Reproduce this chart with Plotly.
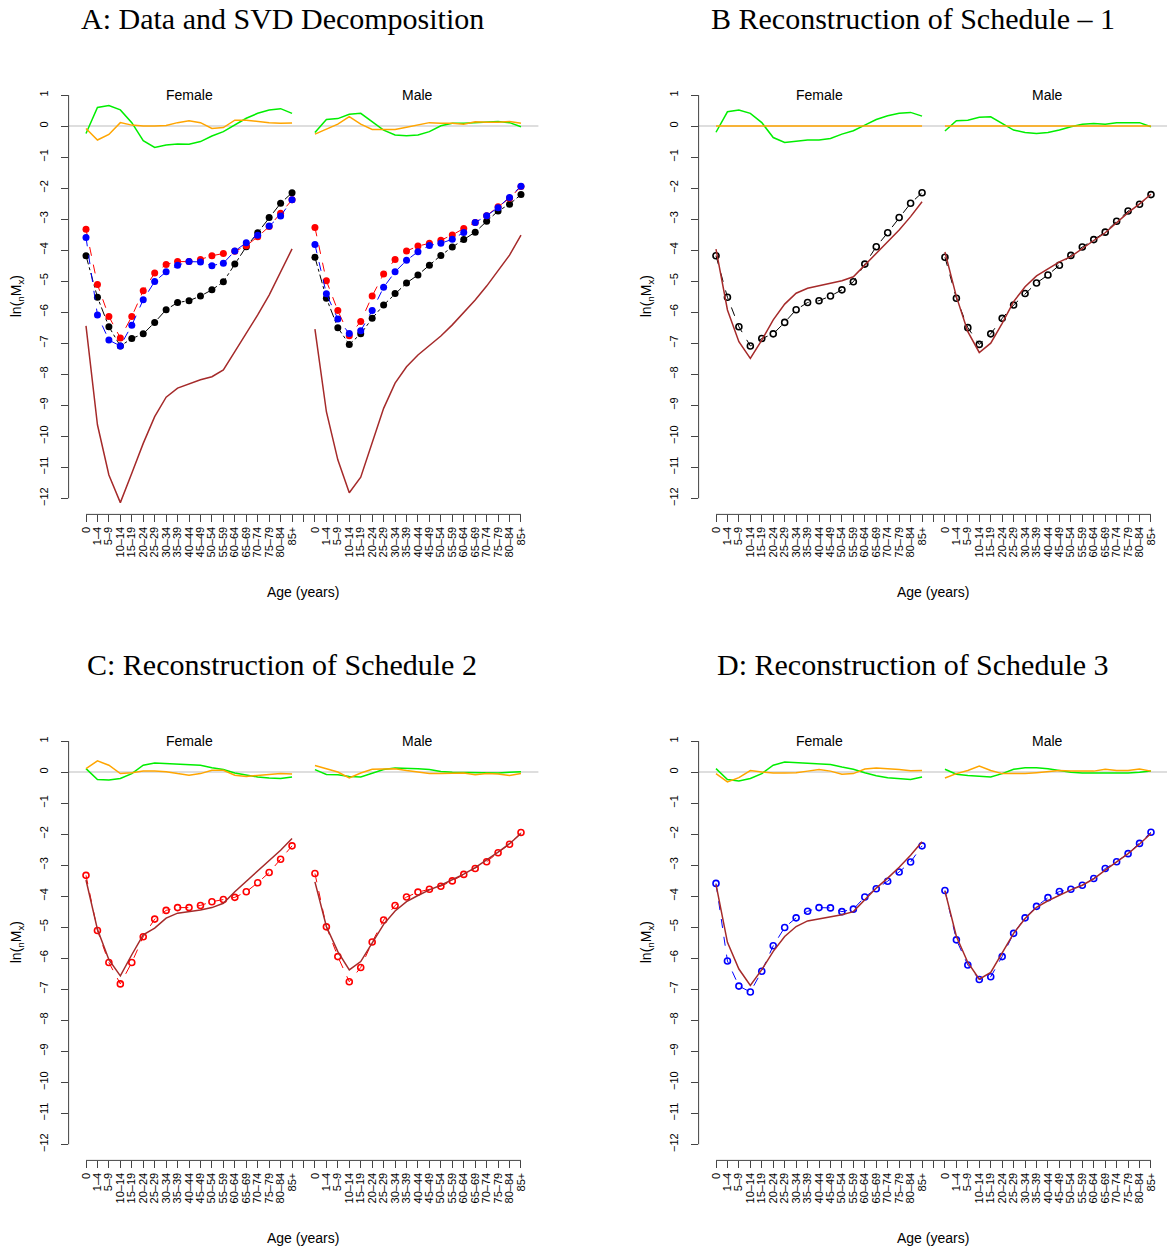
import plotly.graph_objects as go

# ---------------- data ----------------
age_labels = ["0", "1–4", "5–9", "10–14", "15–19", "20–24", "25–29", "30–34", "35–39",
              "40–44", "45–49", "50–54", "55–59", "60–64", "65–69", "70–74", "75–79",
              "80–84", "85+"]

# observed schedules (ln nMx)
sched1_f = [-4.18, -5.52, -6.47, -7.09, -6.85, -6.70, -6.33, -5.92, -5.69, -5.63, -5.48,
            -5.28, -5.02, -4.45, -3.89, -3.44, -2.95, -2.49, -2.15]
sched1_m = [-4.23, -5.55, -6.50, -7.04, -6.70, -6.20, -5.77, -5.40, -5.06, -4.80, -4.49,
            -4.17, -3.90, -3.66, -3.42, -3.07, -2.74, -2.52, -2.21]
sched2_f = [-3.33, -5.11, -6.14, -6.83, -6.14, -5.31, -4.74, -4.46, -4.37, -4.37, -4.30,
            -4.18, -4.11, -4.04, -3.86, -3.57, -3.24, -2.81, -2.38]
sched2_m = [-3.27, -4.99, -5.95, -6.76, -6.30, -5.48, -4.77, -4.30, -4.03, -3.87, -3.78,
            -3.68, -3.51, -3.30, -3.11, -2.89, -2.60, -2.33, -1.95]
sched3_f = [-3.59, -6.09, -6.90, -7.09, -6.42, -5.60, -5.01, -4.70, -4.49, -4.37, -4.38,
            -4.50, -4.42, -4.03, -3.76, -3.52, -3.22, -2.90, -2.38]
sched3_m = [-3.82, -5.41, -6.22, -6.69, -6.60, -5.95, -5.20, -4.70, -4.33, -4.05, -3.85,
            -3.78, -3.65, -3.43, -3.11, -2.89, -2.63, -2.30, -1.94]

# SVD components (panel A)
svd1_f = [-6.44, -9.63, -11.25, -12.14, -11.19, -10.23, -9.37, -8.74, -8.45, -8.32, -8.18,
          -8.08, -7.86, -7.27, -6.68, -6.09, -5.45, -4.73, -3.96]
svd1_m = [-6.55, -9.21, -10.76, -11.82, -11.32, -10.23, -9.10, -8.29, -7.76, -7.38, -7.06,
          -6.77, -6.41, -6.01, -5.61, -5.16, -4.64, -4.16, -3.52]
svd2_f = [-0.24, 0.60, 0.66, 0.52, 0.11, -0.47, -0.69, -0.61, -0.58, -0.59, -0.50,
          -0.32, -0.18, 0.03, 0.25, 0.41, 0.52, 0.56, 0.41]
svd2_m = [-0.21, 0.21, 0.24, 0.38, 0.41, 0.14, -0.13, -0.29, -0.31, -0.29, -0.18,
          0.01, 0.09, 0.09, 0.11, 0.14, 0.15, 0.11, -0.02]
svd3_f = [-0.08, -0.45, -0.27, 0.11, 0.03, 0.00, 0.00, 0.02, 0.11, 0.17, 0.11,
          -0.08, -0.05, 0.19, 0.19, 0.14, 0.11, 0.09, 0.10]
svd3_m = [-0.26, -0.11, 0.06, 0.30, 0.06, -0.11, -0.11, -0.11, -0.04, 0.03, 0.11,
          0.09, 0.09, 0.06, 0.14, 0.12, 0.12, 0.15, 0.09]

# reconstruction of schedule 1 (panel B)
recon1_f = [-3.97, -5.93, -6.95, -7.49, -6.90, -6.25, -5.74, -5.39, -5.23, -5.15, -5.07,
            -4.99, -4.86, -4.48, -4.08, -3.73, -3.35, -2.92, -2.44]
recon1_m = [-4.06, -5.50, -6.63, -7.30, -7.00, -6.36, -5.66, -5.18, -4.83, -4.60, -4.38,
            -4.21, -3.94, -3.69, -3.44, -3.11, -2.79, -2.51, -2.20]
r1_comp2_f = [-0.20, 0.46, 0.52, 0.41, 0.11, -0.37, -0.53, -0.48, -0.45, -0.45, -0.40,
              -0.26, -0.15, 0.03, 0.21, 0.33, 0.41, 0.44, 0.32]
r1_comp2_m = [-0.16, 0.17, 0.19, 0.28, 0.30, 0.09, -0.13, -0.21, -0.24, -0.21, -0.13,
              -0.02, 0.06, 0.08, 0.06, 0.11, 0.12, 0.11, -0.02]
r1_comp3_f = [0.0] * 19
r1_comp3_m = [0.0] * 19

# reconstruction of schedule 2 (panel C)
recon2_f = [-3.48, -5.07, -6.05, -6.57, -5.89, -5.25, -5.03, -4.71, -4.55, -4.50, -4.45,
            -4.37, -4.23, -3.86, -3.53, -3.21, -2.86, -2.52, -2.14]
recon2_m = [-3.54, -4.98, -5.79, -6.38, -6.11, -5.50, -4.91, -4.48, -4.18, -3.98, -3.80,
            -3.65, -3.48, -3.29, -3.08, -2.84, -2.58, -2.31, -1.98]
r2_comp2_f = [0.11, -0.24, -0.26, -0.21, -0.05, 0.22, 0.29, 0.27, 0.25, 0.25, 0.22,
              0.14, 0.08, -0.03, -0.10, -0.16, -0.19, -0.21, -0.16]
r2_comp2_m = [0.08, -0.08, -0.09, -0.14, -0.16, -0.05, 0.08, 0.13, 0.13, 0.11, 0.08,
              0.02, -0.01, -0.02, -0.03, -0.03, -0.03, -0.01, 0.01]
r2_comp3_f = [0.11, 0.36, 0.22, -0.05, -0.02, 0.03, 0.03, 0.01, -0.05, -0.10, -0.05,
              0.06, 0.06, -0.10, -0.14, -0.12, -0.08, -0.05, -0.06]
r2_comp3_m = [0.21, 0.11, 0.00, -0.19, -0.03, 0.09, 0.10, 0.11, 0.05, 0.00, -0.05,
              -0.05, -0.03, -0.03, -0.09, -0.05, -0.06, -0.11, -0.05]

# reconstruction of schedule 3 (panel D)
recon3_f = [-3.62, -5.49, -6.35, -6.88, -6.37, -5.78, -5.30, -4.98, -4.80, -4.73, -4.68,
            -4.60, -4.50, -4.12, -3.74, -3.42, -3.07, -2.68, -2.25]
recon3_m = [-3.83, -5.30, -6.14, -6.68, -6.46, -5.84, -5.20, -4.72, -4.36, -4.15, -3.97,
            -3.80, -3.65, -3.44, -3.16, -2.90, -2.63, -2.32, -1.98]
r3_comp2_f = [0.11, -0.24, -0.29, -0.21, -0.05, 0.22, 0.32, 0.30, 0.28, 0.28, 0.24,
              0.16, 0.09, -0.02, -0.12, -0.18, -0.21, -0.24, -0.16]
r3_comp2_m = [0.09, -0.07, -0.11, -0.14, -0.16, -0.05, 0.09, 0.14, 0.14, 0.11, 0.05,
              -0.01, -0.03, -0.03, -0.04, -0.04, -0.03, -0.01, 0.03]
r3_comp3_f = [-0.05, -0.32, -0.18, 0.05, 0.00, -0.03, -0.03, -0.02, 0.03, 0.08, 0.03,
              -0.07, -0.05, 0.10, 0.13, 0.11, 0.08, 0.04, 0.05]
r3_comp3_m = [-0.19, -0.05, 0.05, 0.19, 0.05, -0.05, -0.05, -0.05, -0.02, 0.01, 0.05,
              0.03, 0.03, 0.03, 0.09, 0.05, 0.05, 0.10, 0.03]

panel_titles = ["A: Data and SVD Decomposition", "B Reconstruction of Schedule – 1",
                "C: Reconstruction of Schedule 2", "D: Reconstruction of Schedule 3"]
y_ticks = list(range(-12, 2))

# ---------------- layout geometry ----------------
W, H = 1167, 1251
PX_PER_UNIT = 11.447
col_px = [(68.6, 538.4), (698.6, 1167.0)]
row_px = [(78.9, 514.4), (724.9, 1160.4)]
title_cx = [282, 913]
title_cy = [19, 664]
agelab_y = [592, 1238]

x_f = list(range(19))
x_m = [i + 20 for i in range(19)]
tickvals = list(range(39))
ticktext = age_labels + [" "] + age_labels

BROWN, GREEN, ORANGE = "#A52A2A", "#00EE00", "#FFA500"
AXC = "#444444"
SANS = "Liberation Sans, Arial, Helvetica, sans-serif"
SERIF = "Liberation Serif, Times New Roman, serif"

fig = go.Figure()

def add_line(ax, x, y, color, width=1.5, dash="solid"):
    fig.add_trace(go.Scatter(x=x, y=y, mode="lines", xaxis="x" + ax, yaxis="y" + ax,
                             line=dict(color=color, width=width, dash=dash),
                             hoverinfo="skip"))

def add_pts(ax, x, y, color, dash, filled):
    if filled:
        marker = dict(symbol="circle", size=7, color=color)
    else:
        marker = dict(symbol="circle-open", size=6, color=color, line=dict(width=1.6, color=color))
    fig.add_trace(go.Scatter(x=x, y=y, mode="lines+markers", xaxis="x" + ax, yaxis="y" + ax,
                             line=dict(color=color, width=1, dash=dash), marker=marker,
                             hoverinfo="skip"))

panels = [(0, 0), (0, 1), (1, 0), (1, 1)]

layout = dict(width=W, height=H, margin=dict(l=0, r=0, t=0, b=0),
              paper_bgcolor="white", plot_bgcolor="white", showlegend=False,
              font=dict(family=SANS, color="black"))
shapes = []
annotations = []

for k, (r, c) in enumerate(panels):
    n = "" if k == 0 else str(k + 1)
    x0p, x1p = col_px[c]
    y0p, y1p = row_px[r]
    xr0 = -1.52
    xr1 = xr0 + (x1p - x0p) / PX_PER_UNIT
    layout["xaxis" + n] = dict(domain=[x0p / W, x1p / W], range=[xr0, xr1],
                               anchor="y" + n, showgrid=False, zeroline=False, showline=False,
                               tickmode="array", tickvals=tickvals, ticktext=ticktext,
                               ticks="outside", ticklen=7, tickwidth=1, tickcolor=AXC,
                               tickangle=-90, tickfont=dict(size=11, family=SANS, color="black"),
                               fixedrange=True)
    layout["yaxis" + n] = dict(domain=[1 - y1p / H, 1 - y0p / H], range=[-12.52, 1.52],
                               anchor="x" + n, showgrid=False, zeroline=False, showline=False,
                               tickmode="array", tickvals=y_ticks,
                               ticks="outside", ticklen=7, tickwidth=1, tickcolor=AXC,
                               tickangle=-90, tickfont=dict(size=11, family=SANS, color="black"),
                               ticklabelstandoff=8, fixedrange=True)
    xref = "x" + n
    yref = "y" + n
    # zero reference line
    shapes.append(dict(type="line", xref=xref + " domain", yref=yref, x0=0, x1=1, y0=0, y1=0,
                       line=dict(color="#D3D3D3", width=1.5), layer="below"))
    # R-style axis lines covering the tick range only
    shapes.append(dict(type="line", xref=xref + " domain", yref=yref, x0=0, x1=0, y0=-12, y1=1,
                       line=dict(color=AXC, width=1)))
    shapes.append(dict(type="line", xref=xref, yref=yref + " domain", x0=0, x1=38, y0=0, y1=0,
                       line=dict(color=AXC, width=1)))
    # sex labels
    annotations.append(dict(x=9, y=1, xref=xref, yref=yref, text="Female", showarrow=False,
                            font=dict(size=14, family=SANS, color="black"), yanchor="middle"))
    annotations.append(dict(x=29, y=1, xref=xref, yref=yref, text="Male", showarrow=False,
                            font=dict(size=14, family=SANS, color="black"), yanchor="middle"))
    # panel titles
    annotations.append(dict(x=title_cx[c] / W, y=1 - title_cy[r] / H, xref="paper", yref="paper",
                            text=panel_titles[k], showarrow=False, xanchor="center",
                            yanchor="middle", borderpad=0,
                            font=dict(size=30, family=SERIF, color="black")))
    # axis titles
    annotations.append(dict(x=(x0p - 52) / W, y=1 - ((y0p + y1p) / 2) / H, xref="paper",
                            yref="paper", text="ln(<sub>n</sub>M<sub>x</sub>)", showarrow=False,
                            textangle=-90, xanchor="center", yanchor="middle",
                            font=dict(size=14, family=SANS, color="black")))
    annotations.append(dict(x=(x0p + (1.52 + 19) * PX_PER_UNIT) / W,
                            y=1 - agelab_y[r] / H, xref="paper", yref="paper",
                            text="Age (years)", showarrow=False, xanchor="center",
                            yanchor="middle", font=dict(size=14, family=SANS, color="black")))

# ---------------- traces ----------------
# Panel A
add_line("", x_f, svd1_f, BROWN); add_line("", x_m, svd1_m, BROWN)
add_line("", x_f, svd2_f, GREEN); add_line("", x_m, svd2_m, GREEN)
add_line("", x_f, svd3_f, ORANGE); add_line("", x_m, svd3_m, ORANGE)
add_pts("", x_f, sched1_f, "black", "dashdot", True); add_pts("", x_m, sched1_m, "black", "dashdot", True)
add_pts("", x_f, sched2_f, "red", "dash", True); add_pts("", x_m, sched2_m, "red", "dash", True)
add_pts("", x_f, sched3_f, "blue", "dash", True); add_pts("", x_m, sched3_m, "blue", "dash", True)

# Panels B, C, D
recon_sets = [
    ("2", sched1_f, sched1_m, "black", recon1_f, recon1_m, r1_comp2_f, r1_comp2_m, r1_comp3_f, r1_comp3_m),
    ("3", sched2_f, sched2_m, "red", recon2_f, recon2_m, r2_comp2_f, r2_comp2_m, r2_comp3_f, r2_comp3_m),
    ("4", sched3_f, sched3_m, "blue", recon3_f, recon3_m, r3_comp2_f, r3_comp2_m, r3_comp3_f, r3_comp3_m),
]
for ax, sf, sm, col, rf, rm, g_f, g_m, o_f, o_m in recon_sets:
    add_line(ax, x_f, g_f, GREEN); add_line(ax, x_m, g_m, GREEN)
    add_line(ax, x_f, o_f, ORANGE); add_line(ax, x_m, o_m, ORANGE)
    add_pts(ax, x_f, sf, col, "dash", False); add_pts(ax, x_m, sm, col, "dash", False)
    add_line(ax, x_f, rf, BROWN); add_line(ax, x_m, rm, BROWN)

layout["shapes"] = shapes
layout["annotations"] = annotations
fig.update_layout(**layout)
fig.write_html("out.html")
